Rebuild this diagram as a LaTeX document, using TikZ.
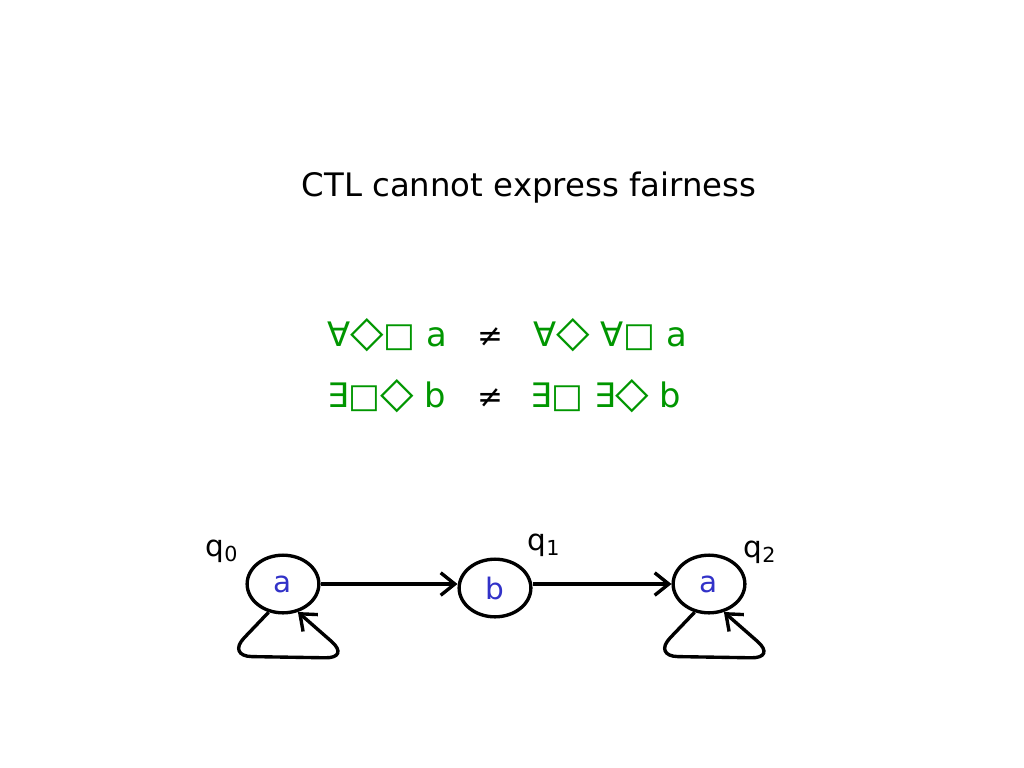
\documentclass[tikz,border=0pt]{standalone}
\usepackage{fontspec}
\setmainfont{DejaVu Sans}
\usetikzlibrary{shapes.geometric,arrows.meta}

\definecolor{fgreen}{RGB}{0,150,0}
\definecolor{sblue}{RGB}{50,50,200}

\newcommand{\dia}{{\fontsize{31}{25}\selectfont ◇}}

\tikzset{
    state/.style={ellipse, draw, line width=2.4pt, inner sep=0pt,
        minimum width=51pt, minimum height=41pt, text=sblue, font=\fontsize{21}{24}\selectfont},
    edge/.style={line width=2.4pt, -{Straight Barb[length=10pt,width=16pt,line width=2.4pt]}},
    formula/.style={text=fgreen, font=\fontsize{24}{28}\selectfont, inner sep=0pt},
    noteq/.style={font=\fontsize{22}{26}\selectfont, inner sep=0pt},
    stname/.style={font=\fontsize{21}{24}\selectfont, inner sep=0pt}
}

\begin{document}
\begin{tikzpicture}[x=0.025cm, y=-0.025cm]
    \useasboundingbox (0,0) rectangle (1024,768);

    % Titel
    \node[font=\fontsize{23}{27}\selectfont] (title) at (529,188) {CTL cannot express fairness};

    % Formeln
    \node[formula, anchor=west] (f1l) at (327,335) {∀\dia□ a};
    \node[noteq] (ne1) at (490,337) {≠};
    \node[formula, anchor=west] (f1r) at (533,335) {∀\dia{} ∀□ a};
    \node[formula, anchor=west] (f2l) at (327,396) {∃□\dia{} b};
    \node[noteq] (ne2) at (490,398) {≠};
    \node[formula, anchor=west] (f2r) at (530,396) {∃□ ∃\dia{} b};

    % Zustaende
    \node[state] (q0) at (283,584) {a};
    \node[state] (q1) at (495,588) {b};
    \node[state] (q2) at (709,584) {a};

    \node[stname] (l0) at (222,551) {q\textsubscript{0}};
    \node[stname] (l1) at (544,545) {q\textsubscript{1}};
    \node[stname] (l2) at (760,552) {q\textsubscript{2}};

    % Uebergaenge
    \draw[edge] (q0.east) -- (q0.east -| q1.west);
    \draw[edge] (q1.east |- q2.west) -- (q2.west);

    % Schleifen
    \draw[edge, rounded corners=18pt] (q0.243) -- ++(-42,44) -- ++(124,2) -- (q0.298);
    \draw[edge, rounded corners=18pt] (q2.243) -- ++(-42,44) -- ++(124,2) -- (q2.298);
\end{tikzpicture}
\end{document}
